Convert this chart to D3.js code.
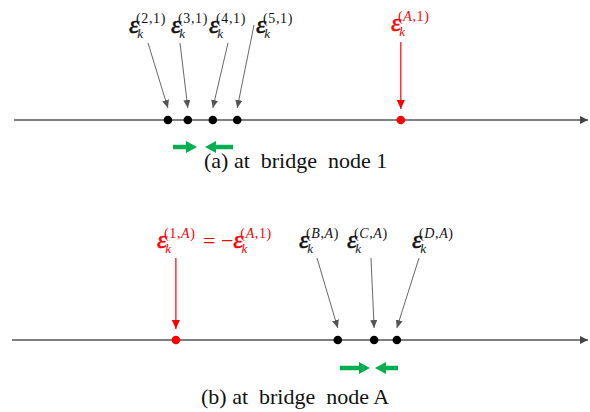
<!DOCTYPE html>
<html>
<head>
<meta charset="utf-8">
<script src="https://cdn.jsdelivr.net/npm/d3@7"></script>
<style>
  html, body { margin: 0; padding: 0; background: #fff; }
  svg { display: block; }
  text { font-family: "Liberation Serif", "Times New Roman", serif; }
</style>
</head>
<body>
<svg id="chart" width="590" height="412"></svg>
<script>
// Positions of the estimates on the 1-D number line (arbitrary units 0..100)
const panelIds      = ["a", "b"];
const captions      = ["(a) at  bridge  node 1", "(b) at  bridge  node A"];
const blackPosA     = [27.1, 30.6, 35.0, 39.3];
const blackSupA     = ["(2,1)", "(3,1)", "(4,1)", "(5,1)"];
const redPosA       = 68.1;
const redSupA       = "(A,1)";
const blackPosB     = [57.0, 63.4, 67.4];
const blackSupB     = ["(B,A)", "(C,A)", "(D,A)"];
const redPosB       = 28.5;
const redSupB       = "(1,A)";
const redRhsSupB    = "(A,1)";

const RED = "#ff0000", GREY = "#555555", GREEN = "#00b050";

const svg = d3.select("#chart");
const x = d3.scaleLinear().domain([0, 100]).range([14, 582]);

// arrowhead markers
const defs = svg.append("defs");
function marker(id, color, w, h) {
  defs.append("marker").attr("id", id)
    .attr("viewBox", `0 0 ${w} ${h}`).attr("refX", w).attr("refY", h / 2)
    .attr("markerWidth", w).attr("markerHeight", h)
    .attr("markerUnits", "userSpaceOnUse").attr("orient", "auto")
    .append("path").attr("d", `M0,0L${w},${h/2}L0,${h}Z`).attr("fill", color);
}
marker("hGrey", GREY, 8, 7);
marker("hRed", RED, 9, 8);
marker("hAxis", "#444", 8, 8);

// epsilon with subscript k and superscript index, as one text run
function eps(parent, x0, y0, sup, color, prefix) {
  const t = parent.append("text").attr("x", x0).attr("y", y0).attr("fill", color);
  if (prefix) {
    t.append("tspan").attr("font-size", 22).text(prefix);
  }
  t.append("tspan").attr("font-size", 26).attr("font-style", "italic")
    .attr("stroke", color).attr("stroke-width", 0.5).text("ε");
  t.append("tspan").attr("font-size", 13).attr("font-style", "italic")
    .attr("dx", -2).attr("dy", 5).text("k");
  const letters = sup.split("");
  letters.forEach((ch, i) => {
    const ts = t.append("tspan").attr("font-size", 14)
      .attr("font-style", /[A-Z]/.test(ch) ? "italic" : "normal")
      .attr("letter-spacing", 0.6).text(ch);
    if (i === 0) ts.attr("dx", -7).attr("dy", -15);
  });
  return t;
}

function greenArrow(g, x1, x2, y) {
  const dir = Math.sign(x2 - x1);
  const headLen = 11, half = 6, shaft = 2.3;
  const xb = x2 - dir * headLen;
  g.append("path")
    .attr("d", `M${x1},${y - shaft}L${xb},${y - shaft}L${xb},${y - half}L${x2},${y}` +
               `L${xb},${y + half}L${xb},${y + shaft}L${x1},${y + shaft}Z`)
    .attr("fill", GREEN);
}

function panel(cfg) {
  const g = svg.append("g").attr("class", "panel-" + cfg.id);
  // number line
  g.append("line").attr("x1", cfg.x0).attr("x2", 588).attr("y1", cfg.axisY).attr("y2", cfg.axisY)
    .attr("stroke", "#555").attr("stroke-width", 1.4).attr("marker-end", "url(#hAxis)");

  // grey pointer arrows from labels to dots
  cfg.black.forEach((p, i) => {
    const s = cfg.arrowStarts[i];
    g.append("line").attr("x1", s[0]).attr("y1", s[1])
      .attr("x2", x(p)).attr("y2", cfg.axisY - 12)
      .attr("stroke", GREY).attr("stroke-width", 0.9).attr("marker-end", "url(#hGrey)");
    eps(g, cfg.labelX[i], cfg.labelY, cfg.sups[i], "#111");
  });
  // red pointer arrow
  g.append("line").attr("x1", x(cfg.red)).attr("y1", cfg.redStartY)
    .attr("x2", x(cfg.red)).attr("y2", cfg.axisY - 11)
    .attr("stroke", RED).attr("stroke-width", 1.2).attr("marker-end", "url(#hRed)");

  // dots
  g.selectAll("circle.b").data(cfg.black).join("circle").attr("class", "b")
    .attr("cx", d => x(d)).attr("cy", cfg.axisY).attr("r", 4.3).attr("fill", "#000");
  g.append("circle").attr("cx", x(cfg.red)).attr("cy", cfg.axisY).attr("r", 4.3).attr("fill", RED);

  // convergence arrows
  greenArrow(g, cfg.green[0], cfg.green[1], cfg.greenY);
  greenArrow(g, cfg.green[3], cfg.green[2], cfg.greenY);

  // caption
  g.append("text").attr("x", cfg.capX).attr("y", cfg.capY)
    .attr("font-size", 22).attr("fill", "#111").attr("xml:space", "preserve")
    .style("white-space", "pre").text(cfg.caption);
  return g;
}

// panel (a)
const ga = panel({
  id: panelIds[0], x0: 14, axisY: 120,
  black: blackPosA, sups: blackSupA, red: redPosA, redStartY: 42,
  labelX: [129, 171, 209, 256], labelY: 33,
  arrowStarts: [[148, 43], [180, 43], [228, 43], [254, 25]],
  green: [173, 197, 205, 233], greenY: 147,
  caption: captions[0], capX: 204, capY: 168
});
eps(ga, 391, 31, redSupA, RED);

// panel (b)
const gb = panel({
  id: panelIds[1], x0: 12, axisY: 340,
  black: blackPosB, sups: blackSupB, red: redPosB, redStartY: 258,
  labelX: [299, 347, 412], labelY: 248,
  arrowStarts: [[317, 258], [371, 258], [419, 258]],
  green: [340, 370, 375, 398], greenY: 368,
  caption: captions[1], capX: 201, capY: 404
});
eps(gb, 157, 248, redSupB, RED);
eps(gb, 203, 248, redRhsSupB, RED, "= −");
</script>
</body>
</html>
